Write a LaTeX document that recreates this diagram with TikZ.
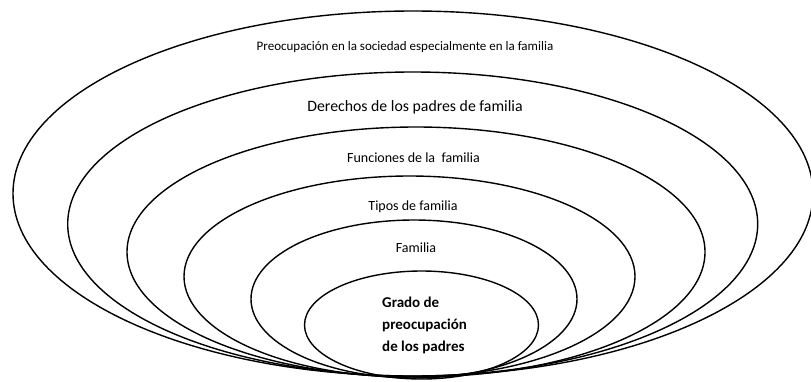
\documentclass[tikz,border=0pt]{standalone}
\usepackage{fontspec}
\setmainfont{Carlito}
\usetikzlibrary{shapes.geometric}
\tikzset{
  ring/.style={draw=black, line width=1.4pt, ellipse, inner sep=0pt, fill=none},
  lbl/.style={inner sep=0pt, font=\fontsize{14}{16}\selectfont},
  biglbl/.style={inner sep=0pt, font=\fontsize{15.8}{18}\selectfont},
  smalllbl/.style={inner sep=0pt, font=\fontsize{13}{15}\selectfont},
  corelbl/.style={inner sep=0pt, align=left, font=\bfseries\fontsize{15}{22}\selectfont}
}
\begin{document}
\begin{tikzpicture}[x=1pt,y=-1pt]
\useasboundingbox (0,0) rectangle (811,381);
\node[ring, minimum width=800pt, minimum height=365pt] (e1) at (413,193.5) {};
\node[ring, minimum width=690pt, minimum height=304pt] (e2) at (412.7,224) {};
\node[ring, minimum width=578pt, minimum height=250pt] (e3) at (416,252) {};
\node[ring, minimum width=451pt, minimum height=201pt] (e4) at (409.5,276.5) {};
\node[ring, minimum width=326pt, minimum height=158pt] (e5) at (414,299) {};
\node[ring, minimum width=234pt, minimum height=108pt] (e6) at (421.5,325) {};
\node[smalllbl] (t1) at (405,47) {Preocupación en la sociedad especialmente en la familia};
\node[biglbl] (t2) at (415,107) {Derechos de los padres de familia};
\node[lbl] (t3) at (413.5,158) {Funciones de la\ \ familia};
\node[lbl] (t4) at (413,207) {Tipos de familia};
\node[lbl] (t5) at (416,248) {Familia};
\node[corelbl, anchor=north west] (t6) at (382,297) {Grado de\\preocupación\\de los padres};
\end{tikzpicture}
\end{document}
